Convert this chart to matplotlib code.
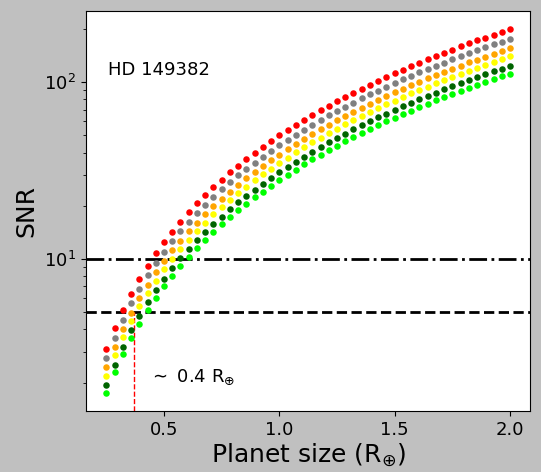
import matplotlib
matplotlib.use("Agg")
from matplotlib import pyplot as plt
from matplotlib.ticker import MultipleLocator

# planet radius grid (Earth radii)
size = [0.25, 0.286, 0.321, 0.357, 0.393, 0.429, 0.464, 0.5, 0.536, 0.571,
        0.607, 0.643, 0.679, 0.714, 0.75, 0.786, 0.821, 0.857, 0.893, 0.929,
        0.964, 1.0, 1.036, 1.071, 1.107, 1.143, 1.179, 1.214, 1.25, 1.286,
        1.321, 1.357, 1.393, 1.429, 1.464, 1.5, 1.536, 1.571, 1.607, 1.643,
        1.679, 1.714, 1.75, 1.786, 1.821, 1.857, 1.893, 1.929, 1.964, 2.0]

snr_red = [3.12, 4.08, 5.17, 6.38, 7.72, 9.18, 10.8, 12.5, 14.3, 16.3,
           18.4, 20.7, 23.0, 25.5, 28.1, 30.9, 33.7, 36.7, 39.9, 43.1,
           46.5, 50.0, 53.6, 57.4, 61.3, 65.3, 69.5, 73.7, 78.1, 82.7,
           87.3, 92.1, 97.0, 102.0, 107.2, 112.5, 117.9, 123.5, 129.1, 134.9,
           140.9, 146.9, 153.1, 159.4, 165.9, 172.4, 179.1, 186.0, 192.9, 200.0]
snr_gray = [2.75, 3.59, 4.55, 5.61, 6.79, 8.08, 9.48, 11.0, 12.6, 14.4,
            16.2, 18.2, 20.3, 22.4, 24.8, 27.2, 29.7, 32.3, 35.1, 37.9,
            40.9, 44.0, 47.2, 50.5, 53.9, 57.5, 61.1, 64.9, 68.8, 72.7,
            76.8, 81.0, 85.4, 89.8, 94.3, 99.0, 103.8, 108.7, 113.6, 118.8,
            124.0, 129.3, 134.8, 140.3, 146.0, 151.8, 157.6, 163.7, 169.8, 176.0]
snr_orange = [2.44, 3.18, 4.03, 4.97, 6.02, 7.16, 8.41, 9.75, 11.2, 12.7,
              14.4, 16.1, 18.0, 19.9, 21.9, 24.1, 26.3, 28.7, 31.1, 33.6,
              36.3, 39.0, 41.8, 44.8, 47.8, 50.9, 54.2, 57.5, 60.9, 64.5,
              68.1, 71.8, 75.7, 79.6, 83.6, 87.8, 92.0, 96.3, 100.7, 105.3,
              109.9, 114.6, 119.4, 124.4, 129.4, 134.5, 139.7, 145.1, 150.5, 156.0]
snr_gold = [2.19, 2.86, 3.62, 4.46, 5.40, 6.43, 7.54, 8.75, 10.0, 11.4,
            12.9, 14.5, 16.1, 17.9, 19.7, 21.6, 23.6, 25.7, 27.9, 30.2,
            32.5, 35.0, 37.5, 40.2, 42.9, 45.7, 48.6, 51.6, 54.7, 57.9,
            61.1, 64.5, 67.9, 71.4, 75.0, 78.8, 82.5, 86.4, 90.4, 94.5,
            98.6, 102.9, 107.2, 111.6, 116.1, 120.7, 125.4, 130.2, 135.0, 140.0]
snr_dkgreen = [1.94, 2.53, 3.20, 3.95, 4.78, 5.69, 6.68, 7.75, 8.90, 10.1,
               11.4, 12.8, 14.3, 15.8, 17.4, 19.1, 20.9, 22.8, 24.7, 26.7,
               28.8, 31.0, 33.3, 35.6, 38.0, 40.5, 43.1, 45.7, 48.4, 51.2,
               54.1, 57.1, 60.1, 63.3, 66.5, 69.8, 73.1, 76.6, 80.1, 83.7,
               87.3, 91.1, 94.9, 98.9, 102.8, 106.9, 111.1, 115.3, 119.6, 124.0]
snr_lime = [1.75, 2.29, 2.89, 3.57, 4.32, 5.14, 6.04, 7.0, 8.04, 9.14,
            10.3, 11.6, 12.9, 14.3, 15.8, 17.3, 18.9, 20.6, 22.3, 24.1,
            26.0, 28.0, 30.0, 32.1, 34.3, 36.6, 38.9, 41.3, 43.8, 46.3,
            48.9, 51.6, 54.3, 57.1, 60.0, 63.0, 66.0, 69.1, 72.3, 75.6,
            78.9, 82.3, 85.8, 89.3, 92.9, 96.6, 100.3, 104.1, 108.0, 112.0]

series = [snr_red, snr_gray, snr_orange, snr_gold, snr_dkgreen, snr_lime]
colors = ['red', 'gray', 'orange', 'yellow', 'darkgreen', 'lime']

snr_detect = 10    # dash-dot threshold
snr_marginal = 5   # dashed threshold
size_limit = 0.37  # red marker of the smallest detectable size

fig = plt.figure(figsize=(5.41, 4.72), dpi=100, facecolor='silver')
ax = fig.add_axes([0.159, 0.129, 0.821, 0.848])

for y, c in zip(series, colors):
    ax.scatter(size, y, s=22, color=c, lw=0, zorder=3)

ax.set_yscale('log')
ylo, yhi = ax.get_ylim()

ax.axhline(snr_detect, color='k', ls='-.', lw=2)
ax.axhline(snr_marginal, color='k', ls='--', lw=2)
ax.vlines(size_limit, ylo, snr_marginal, color='red', ls='--', lw=1)
ax.set_ylim(ylo, yhi)

ax.text(0.05, 0.853, 'HD 149382', transform=ax.transAxes, fontsize=13,
        ha='left', va='center')
ax.text(0.142, 0.085, r'$\sim$ 0.4 R$_{\oplus}$', transform=ax.transAxes,
        fontsize=13, ha='left', va='center')

ax.xaxis.set_major_locator(MultipleLocator(0.5))
ax.set_xlabel(r'Planet size (R$_{\oplus}$)', fontsize=18, labelpad=2)
ax.set_ylabel('SNR', fontsize=18)
ax.tick_params(labelsize=13)

fig.savefig('out.png', dpi=100, facecolor=fig.get_facecolor())
